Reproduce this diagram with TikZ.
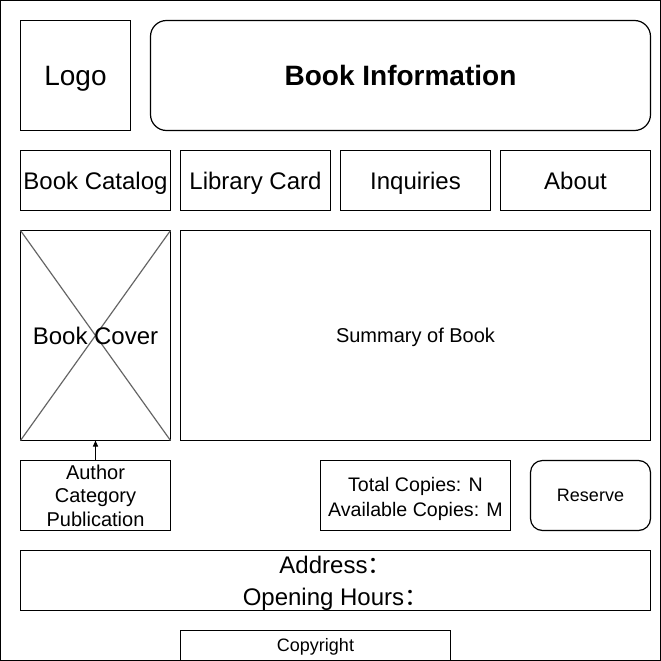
\documentclass[tikz,border=0pt]{standalone}
\usepackage{fontspec}
\setmainfont{Liberation Sans}
\newfontfamily\cjk{Noto Sans CJK SC}
\usetikzlibrary{arrows.meta}
\begin{document}
\begin{tikzpicture}[x=1pt,y=-1pt,
  wbox/.style={draw=black, line width=1.2pt, inner sep=0pt, outer sep=0pt, align=center, text=black},
  rbox/.style={wbox, rounded corners=#1},
  xline/.style={draw={rgb,255:red,102;green,102;blue,102}, line width=1.2pt},
  fA/.style={font=\fontsize{28}{33.6}\selectfont, text height=20pt, text depth=0pt},
  fB/.style={font=\fontsize{24}{28.8}\selectfont, text height=17.2pt, text depth=0pt},
  fC/.style={font=\fontsize{20}{23.5}\selectfont},
  fE/.style={font=\fontsize{20}{24}\selectfont, text height=14.3pt, text depth=0pt},
  fD/.style={font=\fontsize{18}{21.6}\selectfont, text height=12.9pt, text depth=0pt},
  link/.style={line width=1pt, -{Triangle[length=6pt,width=5pt]}}
]
\useasboundingbox (-0.5,-0.5) rectangle (660.5,660.5);
\node[wbox, minimum width=660pt, minimum height=660pt] (frame) at (330,330) {};
% header
\node[wbox, fA, minimum width=110pt, minimum height=110pt] (logo) at (75,75) {Logo};
\node[rbox=16pt, fA, minimum width=500pt, minimum height=110pt] (info) at (400,75) {\bfseries Book Information};
% navigation
\node[wbox, fB, minimum width=150pt, minimum height=60pt] (catalog) at (95,180) {Book Catalog};
\node[wbox, fB, minimum width=150pt, minimum height=60pt] (card) at (255,180) {Library Card};
\node[wbox, fB, minimum width=150pt, minimum height=60pt] (inq) at (415,180) {Inquiries};
\node[wbox, fB, minimum width=150pt, minimum height=60pt] (about) at (575,180) {About};
% content
\node[wbox, minimum width=150pt, minimum height=210pt] (cover) at (95,335) {};
\draw[xline] (cover.north west) -- (cover.south east);
\draw[xline] (cover.north east) -- (cover.south west);
\node[fB, inner sep=0pt] (coverlbl) at (cover.center) {Book Cover};
\node[wbox, fE, minimum width=470pt, minimum height=210pt] (summary) at (415,335) {Summary of Book};
% details
\node[wbox, fC, minimum width=150pt, minimum height=70pt] (meta) at (95,495) {Author\\Category\\Publication};
\node[wbox, minimum width=190pt, minimum height=70pt, font=\fontsize{19.6}{25.3}\selectfont, text height=45pt, text depth=3pt] (copies) at (415,495) {Total Copies: N\\Available Copies: M};
\node[rbox=12pt, fD, minimum width=120pt, minimum height=70pt] (reserve) at (590,495) {Reserve};
\draw[link] (meta.north) -- (cover.south);
% footer
\node[wbox, minimum width=630pt, minimum height=60pt, font=\fontsize{24}{31.7}\selectfont, text height=52pt, text depth=2pt] (addr) at (335,580) {Address{\cjk ：}\\Opening Hours{\cjk ：}};
\node[wbox, fD, minimum width=270pt, minimum height=30pt] (copy) at (315,645) {Copyright};
\end{tikzpicture}
\end{document}
